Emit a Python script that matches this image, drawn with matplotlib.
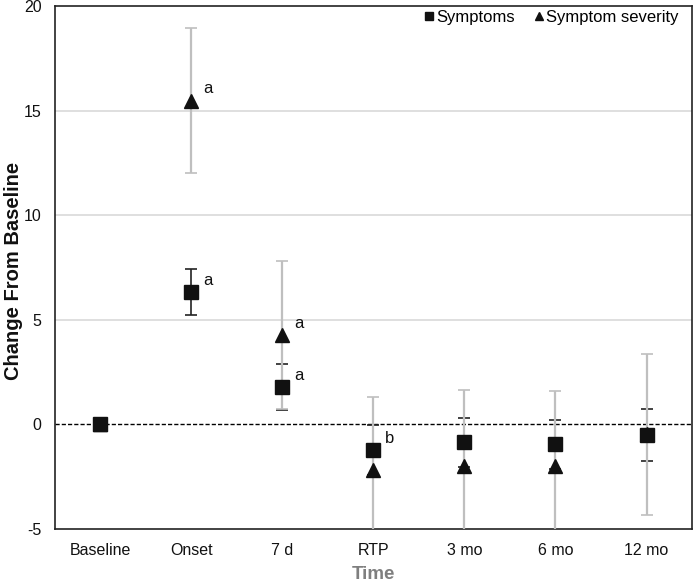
import matplotlib
matplotlib.use("Agg")
import matplotlib.pyplot as plt
import numpy as np

plt.rcParams['font.family'] = ['Liberation Sans', 'DejaVu Sans']
plt.rcParams['axes.unicode_minus'] = False

categories = ["Baseline", "Onset", "7 d", "RTP", "3 mo", "6 mo", "12 mo"]
symptoms = [0.0, 6.33, 1.79, -1.22, -0.86, -0.94, -0.51]
symptoms_err = [0.0, 1.10, 1.08, 1.19, 1.18, 1.17, 1.24]
severity = [0.0, 15.47, 4.27, -2.20, -2.00, -2.00, -0.48]
severity_err = [0.0, 3.47, 3.54, 3.52, 3.64, 3.61, 3.83]
symptom_labels = ["", "a", "a", "b", "", "", ""]
severity_labels = ["", "a", "a", "", "", "", ""]

fig = plt.figure(figsize=(6.93, 5.81), dpi=100)
ax = fig.add_axes([0.079, 0.0895, 0.9196, 0.9002])

x = np.arange(len(categories))

for yv in [5, 10, 15]:
    ax.axhline(yv, color='#d9d9d9', lw=1.2, zorder=0)
ax.axhline(0, color='black', lw=1.0, ls=(0, (3, 1.5)), zorder=1)

xe = x[1:]
ax.errorbar(xe, symptoms[1:], yerr=symptoms_err[1:], fmt='none', ecolor='#222222',
            elinewidth=1.2, capsize=4, capthick=1.2, zorder=2)
ax.errorbar(xe, severity[1:], yerr=severity_err[1:], fmt='none', ecolor='#bfbfbf',
            elinewidth=1.6, capsize=4, capthick=1.2, zorder=3)

ax.plot(x, severity, ls='none', marker='^', ms=10, color='#111111', zorder=4,
        label='Symptom severity')
ax.plot(x, symptoms, ls='none', marker='s', ms=10, color='#111111', zorder=5,
        label='Symptoms')

for xi, yv, lab in zip(x, symptoms, symptom_labels):
    if lab:
        ax.annotate(lab, (xi, yv), xytext=(12, 11), textcoords='offset pixels',
                    fontsize=12, ha='left', va='center', color='#111111')
for xi, yv, lab in zip(x, severity, severity_labels):
    if lab:
        ax.annotate(lab, (xi, yv), xytext=(12, 12), textcoords='offset pixels',
                    fontsize=12, ha='left', va='center', color='#111111')

ax.set_xlim(-0.5, len(categories) - 0.5)
ax.set_ylim(-5, 20)
ax.set_yticks([-5, 0, 5, 10, 15, 20])
ax.set_xticks(x)
ax.set_xticklabels(categories)
ax.tick_params(axis='both', length=0, labelsize=11.5, colors='#111111')
ax.tick_params(axis='x', pad=10)
ax.tick_params(axis='y', pad=9.5)

for s in ax.spines.values():
    s.set_color('#222222')
    s.set_linewidth(1.2)

ax.set_ylabel("Change From Baseline", fontsize=14.5, fontweight='bold', color='#111111')
ax.yaxis.set_label_coords(-0.05, 0.493)
ax.set_xlabel("Time", fontsize=13.5, fontweight='bold', color='#7f7f7f', labelpad=5.5)

handles, labels = ax.get_legend_handles_labels()
ax.legend(handles[::-1], labels[::-1], loc='upper right', ncol=2, frameon=False,
          fontsize=12, handletextpad=0.0, columnspacing=1.0, handlelength=0.9,
          markerscale=0.6, borderaxespad=0.0, bbox_to_anchor=(0.99, 1.005))

fig.savefig("out.png", dpi=100)
